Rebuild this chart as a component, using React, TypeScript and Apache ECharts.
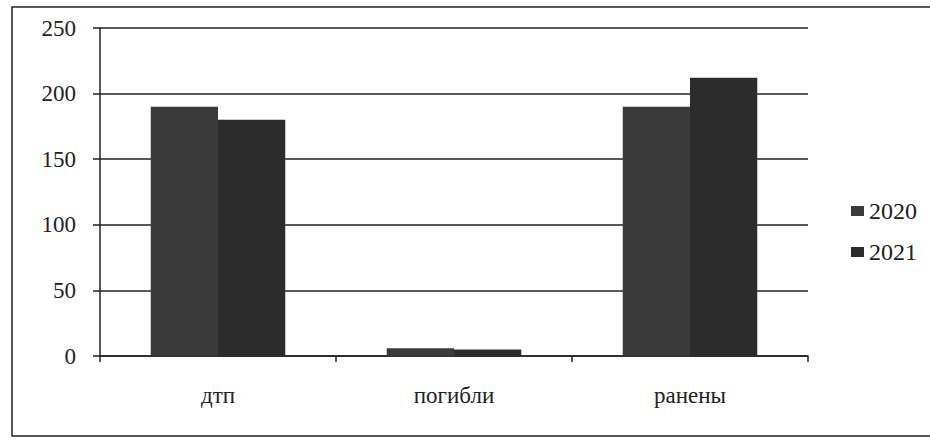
import React, { useEffect, useRef } from "react";
import * as echarts from "echarts";

const categories = ["дтп", "погибли", "ранены"];
const seriesNames = ["2020", "2021"];
const values2020 = [190, 6, 190];
const values2021 = [180, 5, 212];
const yTicks = { min: 0, max: 250, interval: 50 };

const FONT = "Times New Roman";

export default function App() {
  const ref = useRef<HTMLDivElement>(null);
  useEffect(() => {
    if (!ref.current) return;
    const chart = echarts.init(ref.current, null, { renderer: "svg" });
    const label = { fontFamily: FONT, fontSize: 23, color: "#222" };
    chart.setOption({
      animation: false,
      backgroundColor: "#ffffff",
      textStyle: { fontFamily: FONT },
      graphic: [
        {
          type: "rect",
          shape: { x: 12, y: 7, width: 940, height: 429 },
          style: { fill: "none", stroke: "#222", lineWidth: 1.5 },
          silent: true,
        },
      ],
      grid: { left: 100, right: 122, top: 28, bottom: 84, containLabel: false },
      legend: {
        orient: "vertical",
        left: 846,
        top: 194,
        itemWidth: 13,
        itemHeight: 10,
        itemGap: 17,
        icon: "rect",
        textStyle: { fontFamily: FONT, fontSize: 24, color: "#222" },
        data: seriesNames,
      },
      xAxis: {
        type: "category",
        data: categories,
        axisLine: { lineStyle: { color: "#222", width: 1.5 } },
        axisTick: { show: true, length: 6, lineStyle: { color: "#222", width: 1.5 } },
        axisLabel: { ...label, margin: 28 },
        splitLine: { show: false },
      },
      yAxis: {
        type: "value",
        min: yTicks.min,
        max: yTicks.max,
        interval: yTicks.interval,
        axisLine: { show: true, lineStyle: { color: "#222", width: 1.5 } },
        axisTick: { show: true, length: 7, lineStyle: { color: "#222", width: 1.5 } },
        axisLabel: { ...label, margin: 24 },
        splitLine: { show: true, lineStyle: { color: "#222", width: 1.5 } },
      },
      series: [
        {
          name: seriesNames[0],
          type: "bar",
          data: values2020,
          barGap: "0%",
          barCategoryGap: "43%",
          itemStyle: { color: "#3a3a3a" },
        },
        {
          name: seriesNames[1],
          type: "bar",
          data: values2021,
          barGap: "0%",
          barCategoryGap: "43%",
          itemStyle: { color: "#2c2c2c" },
        },
      ],
    });
    return () => chart.dispose();
  }, []);
  return (
    <div
      ref={ref}
      style={{ position: "fixed", left: 0, top: 0, width: 930, height: 440 }}
    />
  );
}
